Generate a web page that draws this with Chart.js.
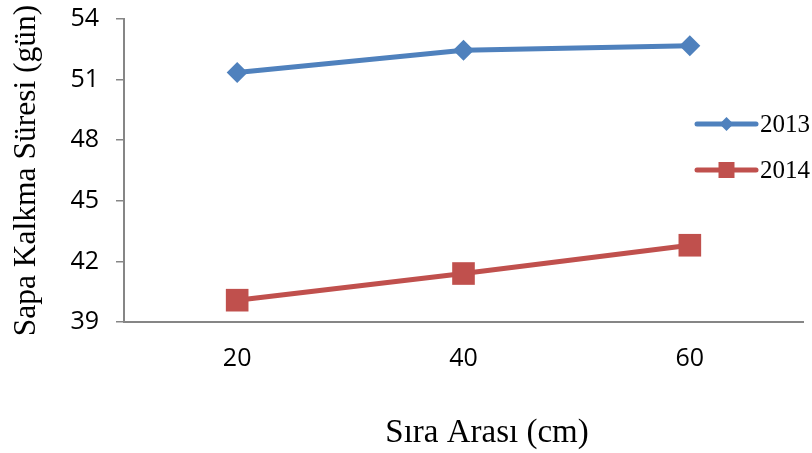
<!DOCTYPE html>
<html><head><meta charset="utf-8">
<script src="https://cdn.jsdelivr.net/npm/chart.js@4.4.0/dist/chart.umd.min.js"></script>
<style>html,body{margin:0;padding:0;background:#fff;}#wrap{width:812px;height:453px;position:relative;}</style>
</head><body><div id="wrap"><canvas id="c" width="812" height="453"></canvas></div>
<script>
const categories = ['20', '40', '60'];
const seriesNames = ['2013', '2014'];
const values2013 = [51.35, 52.45, 52.68];
const values2014 = [40.08, 41.40, 42.80];
const yTicks = [39, 42, 45, 48, 51, 54];
const xTitle = 'Sıra Arası (cm)';
const yTitle = 'Sapa Kalkma Süresi (gün)';

const BLUE = '#4F81BD';
const RED = '#C0504D';
const AXIS = '#868686';

const lineLegend = {
  id: 'lineLegend',
  afterDraw(chart) {
    const ctx = chart.ctx;
    chart.data.datasets.forEach((ds, i) => {
      const y = 124 + i * 46;
      const x0 = 697, x1 = 756, xm = 726.5;
      ctx.save();
      ctx.strokeStyle = ds.borderColor;
      ctx.lineWidth = 5;
      ctx.lineCap = 'round';
      ctx.beginPath(); ctx.moveTo(x0, y); ctx.lineTo(x1, y); ctx.stroke();
      ctx.fillStyle = ds.pointBackgroundColor;
      ctx.beginPath();
      if (ds.pointStyle === 'rectRot') {
        const r = 7;
        ctx.moveTo(xm, y - r); ctx.lineTo(xm + r, y); ctx.lineTo(xm, y + r); ctx.lineTo(xm - r, y); ctx.closePath();
      } else {
        ctx.rect(xm - 8, y - 8, 16, 16);
      }
      ctx.fill();
      ctx.fillStyle = '#000';
      ctx.font = '25px "Liberation Serif"';
      ctx.textAlign = 'left';
      ctx.textBaseline = 'middle';
      ctx.fillText(ds.label, 760, y + 1);
      ctx.restore();
    });
  }
};

// Excel places the x-axis title slightly right of the plot centre
const shiftXTitle = {
  id: 'shiftXTitle',
  beforeDraw(chart) {
    const sc = chart.scales.x;
    if (sc && !sc._shiftPatched) {
      const orig = sc.drawTitle;
      sc.drawTitle = function () {
        const ctx = this.ctx;
        ctx.save();
        ctx.translate(23.5, 0);
        orig.apply(this, arguments);
        ctx.restore();
      };
      sc._shiftPatched = true;
    }
  }
};

new Chart(document.getElementById('c'), {
  type: 'line',
  data: {
    labels: categories,
    datasets: [
      { label: seriesNames[0], data: values2013, borderColor: BLUE, backgroundColor: BLUE,
        pointBackgroundColor: BLUE, pointBorderColor: BLUE, pointStyle: 'rectRot',
        pointRadius: 10.5, pointHoverRadius: 10.5, pointBorderWidth: 0, borderWidth: 5,
        borderCapStyle: 'round', tension: 0 },
      { label: seriesNames[1], data: values2014, borderColor: RED, backgroundColor: RED,
        pointBackgroundColor: RED, pointBorderColor: RED, pointStyle: 'rect',
        pointRadius: 16, pointHoverRadius: 16, pointBorderWidth: 0, borderWidth: 5,
        borderCapStyle: 'round', tension: 0 }
    ]
  },
  options: {
    responsive: false,
    animation: false,
    devicePixelRatio: 1,
    layout: { autoPadding: false, padding: { top: 19, right: 9, left: 0, bottom: 0 } },
    plugins: { legend: { display: false }, tooltip: { enabled: false } },
    scales: {
      x: {
        type: 'category',
        offset: true,
        grid: { display: true, drawOnChartArea: false, drawTicks: false, color: AXIS },
        border: { display: true, color: AXIS, width: 2 },
        ticks: { color: '#000', font: { family: 'Open Sans', size: 25 }, padding: 22, maxRotation: 0 },
        title: { display: true, text: xTitle, color: '#000',
                 font: { family: 'Liberation Serif', size: 33, lineHeight: 1 },
                 padding: { top: 0, bottom: 3 } },
        afterFit(scale) { scale.height = 131; scale.paddingLeft = 0; scale.paddingRight = 0; }
      },
      y: {
        min: yTicks[0],
        max: yTicks[yTicks.length - 1],
        afterBuildTicks(scale) { scale.ticks = yTicks.map(v => ({ value: v })); },
        grid: { display: true, drawOnChartArea: false, drawTicks: true, tickLength: 8, color: AXIS, lineWidth: 1.5 },
        border: { display: true, color: AXIS, width: 2 },
        ticks: { color: '#000', font: { family: 'Open Sans', size: 25 }, padding: 17 },
        title: { display: true, text: yTitle, color: '#000',
                 font: { family: 'Liberation Serif', size: 31.5, lineHeight: 1 },
                 padding: { top: 11, bottom: 0 } },
        afterFit(scale) { scale.width = 124; scale.paddingTop = 0; scale.paddingBottom = 0; }
      }
    }
  },
  plugins: [lineLegend, shiftXTitle]
});
</script>
</body></html>
